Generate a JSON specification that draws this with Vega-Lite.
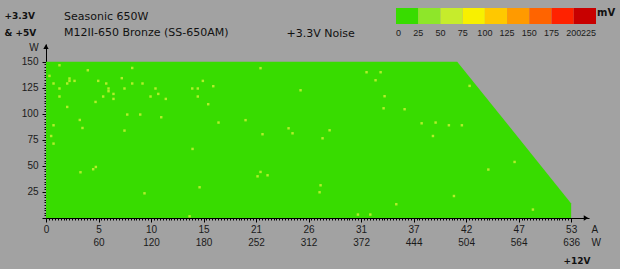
{
  "$schema": "https://vega.github.io/schema/vega-lite/v6.json",
  "width": 543,
  "height": 174,
  "autosize": {"type": "none"},
  "padding": {"left": 46, "top": 44, "right": 31, "bottom": 51},
  "background": "#a2a2a2",
  "config": {"view": {"stroke": null}, "font": "DejaVu Sans"},
  "title": {
    "text": "Seasonic 650W",
    "subtitle": "M12II-650 Bronze (SS-650AM)",
    "anchor": "start",
    "frame": "group",
    "dx": 18,
    "dy": 34,
    "font": "DejaVu Sans",
    "fontSize": 11,
    "fontWeight": "normal",
    "color": "#111111",
    "subtitleFont": "DejaVu Sans",
    "subtitleFontSize": 11,
    "subtitleColor": "#111111",
    "subtitlePadding": 5,
    "offset": 4
  },
  "datasets": {
    "region": [
      {"A": 0, "W": 150, "mV": 10},
      {"A": 41.5, "W": 150, "mV": 10},
      {"A": 53, "W": 14, "mV": 10}
    ],
    "spots": [
      {"A": 1.36, "W": 146.6}, {"A": 4.22, "W": 141.8}, {"A": 8.7, "W": 144.0}, {"A": 0.35, "W": 136.4},
      {"A": 2.37, "W": 133.9}, {"A": 2.37, "W": 131.6}, {"A": 2.88, "W": 131.6}, {"A": 0.76, "W": 129.1},
      {"A": 2.14, "W": 129.1}, {"A": 5.27, "W": 131.6}, {"A": 7.65, "W": 134.2}, {"A": 6.08, "W": 129.1},
      {"A": 8.7, "W": 129.1}, {"A": 9.74, "W": 129.1}, {"A": 15.83, "W": 131.6}, {"A": 16.88, "W": 126.5},
      {"A": 1.36, "W": 124.3}, {"A": 6.31, "W": 124.3}, {"A": 6.31, "W": 121.7}, {"A": 7.92, "W": 124.3},
      {"A": 11.05, "W": 124.3}, {"A": 14.76, "W": 124.3}, {"A": 15.32, "W": 124.3}, {"A": 6.81, "W": 119.1},
      {"A": 11.33, "W": 119.1}, {"A": 1.36, "W": 116.6}, {"A": 5.77, "W": 116.6}, {"A": 10.55, "W": 116.6},
      {"A": 6.81, "W": 114.3}, {"A": 12.09, "W": 114.3}, {"A": 15.32, "W": 116.6}, {"A": 5.0, "W": 111.4},
      {"A": 2.14, "W": 106.6}, {"A": 16.37, "W": 109.2}, {"A": 8.2, "W": 99.3}, {"A": 9.51, "W": 99.3},
      {"A": 11.63, "W": 96.7}, {"A": 3.41, "W": 94.1}, {"A": 0.76, "W": 89.0}, {"A": 17.41, "W": 91.6},
      {"A": 3.68, "W": 86.4}, {"A": 0.52, "W": 78.7}, {"A": 7.92, "W": 83.9}, {"A": 0.76, "W": 71.4},
      {"A": 14.79, "W": 66.3}, {"A": 3.48, "W": 43.9}, {"A": 4.76, "W": 46.8}, {"A": 5.03, "W": 49.0},
      {"A": 42.75, "W": 126.8}, {"A": 39.32, "W": 91.6}, {"A": 40.66, "W": 89.0}, {"A": 41.97, "W": 89.0},
      {"A": 39.05, "W": 78.7}, {"A": 47.29, "W": 53.8}, {"A": 44.64, "W": 46.5}, {"A": 41.17, "W": 21.1},
      {"A": 49.14, "W": 8.1}, {"A": 35.35, "W": 13.2}, {"A": 31.48, "W": 3.3}, {"A": 32.73, "W": 3.3},
      {"A": 14.49, "W": 1.6},
      {"A": 21.65, "W": 143.8}, {"A": 32.35, "W": 139.9}, {"A": 33.77, "W": 139.9}, {"A": 33.26, "W": 132.2},
      {"A": 34.17, "W": 116.9}, {"A": 34.07, "W": 105.3}, {"A": 36.19, "W": 104.4}, {"A": 25.69, "W": 122.6},
      {"A": 24.48, "W": 86.1}, {"A": 24.88, "W": 81.3}, {"A": 27.91, "W": 76.5}, {"A": 28.62, "W": 84.2},
      {"A": 37.91, "W": 90.9}, {"A": 21.85, "W": 80.4}, {"A": 20.14, "W": 93.9}, {"A": 21.35, "W": 40.0},
      {"A": 22.36, "W": 41.0}, {"A": 27.71, "W": 31.4}, {"A": 27.61, "W": 24.7}, {"A": 9.94, "W": 23.7},
      {"A": 15.5, "W": 29.5}, {"A": 21.65, "W": 44.2}
    ],
    "xend": [{"A": 54.5, "W": 0}],
    "yend": [{"A": 0, "W": 164.5}]
  },
  "layer": [
    {
      "data": {"name": "region"},
      "mark": {"type": "area", "interpolate": "linear", "opacity": 1},
      "encoding": {
        "x": {
          "field": "A", "type": "quantitative",
          "scale": {"domain": [0, 54.8], "nice": false, "zero": false},
          "axis": {
            "orient": "bottom",
            "values": [0,0.294,0.589,0.883,1.178,1.472,1.767,2.061,2.356,2.65,2.944,3.239,3.533,3.828,4.122,4.417,4.711,5.006,
              5.3,5.594,5.889,6.183,6.478,6.772,7.067,7.361,7.656,7.95,8.244,8.539,8.833,9.128,9.422,9.717,10.011,10.306,
              10.6,10.894,11.189,11.483,11.778,12.072,12.367,12.661,12.956,13.25,13.544,13.839,14.133,14.428,14.722,15.017,15.311,15.606,
              15.9,16.194,16.489,16.783,17.078,17.372,17.667,17.961,18.256,18.55,18.844,19.139,19.433,19.728,20.022,20.317,20.611,20.906,
              21.2,21.494,21.789,22.083,22.378,22.672,22.967,23.261,23.556,23.85,24.144,24.439,24.733,25.028,25.322,25.617,25.911,26.206,
              26.5,26.794,27.089,27.383,27.678,27.972,28.267,28.561,28.856,29.15,29.444,29.739,30.033,30.328,30.622,30.917,31.211,31.506,
              31.8,32.094,32.389,32.683,32.978,33.272,33.567,33.861,34.156,34.45,34.744,35.039,35.333,35.628,35.922,36.217,36.511,36.806,
              37.1,37.394,37.689,37.983,38.278,38.572,38.867,39.161,39.456,39.75,40.044,40.339,40.633,40.928,41.222,41.517,41.811,42.106,
              42.4,42.694,42.989,43.283,43.578,43.872,44.167,44.461,44.756,45.05,45.344,45.639,45.933,46.228,46.522,46.817,47.111,47.406,
              47.7,47.994,48.289,48.583,48.878,49.172,49.467,49.761,50.056,50.35,50.644,50.939,51.233,51.528,51.822,52.117,52.411,52.706,53],
            "labelExpr": "abs(datum.value/5.3-round(datum.value/5.3))<0.001 ? [['0'],['5','60'],['10','120'],['15','180'],['21','252'],['26','312'],['31','372'],['37','444'],['42','504'],['47','564'],['53','636']][round(datum.value/5.3)] : ''",
            "labelOverlap": false,
            "labelFlush": false,
            "labelBound": false,
            "labelFont": "Liberation Sans",
            "labelFontSize": 10,
            "labelColor": "#1a1a1a",
            "labelLineHeight": 13.5,
            "labelPadding": 2,
            "tickSize": {"condition": {"test": "abs(datum.value/5.3-round(datum.value/5.3))<0.001", "value": 4}, "value": 2},
            "tickColor": "#000000",
            "tickWidth": 1,
            "domainColor": "#000000",
            "domainWidth": 1,
            "grid": false,
            "title": ["A", "W"],
            "titleX": 545,
            "titleY": 14,
            "titleAlign": "left",
            "titleBaseline": "alphabetic",
            "titleFont": "Liberation Sans",
            "titleFontSize": 10,
            "titleFontWeight": "normal",
            "titleLineHeight": 13.5,
            "titleColor": "#1a1a1a"
          }
        },
        "y": {
          "field": "W", "type": "quantitative",
          "scale": {"domain": [0, 167], "nice": false, "zero": true},
          "axis": {
            "orient": "left",
            "values": [0,2.5,5,7.5,10,12.5,15,17.5,20,22.5,25,27.5,30,32.5,35,37.5,40,42.5,45,47.5,50,52.5,55,57.5,60,62.5,65,67.5,70,72.5,75,77.5,80,82.5,85,87.5,90,92.5,95,97.5,100,102.5,105,107.5,110,112.5,115,117.5,120,122.5,125,127.5,130,132.5,135,137.5,140,142.5,145,147.5,150],
            "labelExpr": "datum.value > 0 && datum.value % 25 == 0 ? datum.label : ''",
            "labelOverlap": false,
            "labelFont": "Liberation Sans",
            "labelFontSize": 10,
            "labelColor": "#1a1a1a",
            "labelPadding": 4,
            "tickSize": {"condition": {"test": "datum.value % 25 == 0", "value": 4}, "value": 2},
            "tickColor": "#000000",
            "domainColor": "#000000",
            "grid": false,
            "title": "W",
            "titleAngle": 0,
            "titleX": -12.5,
            "titleY": 6,
            "titleAlign": "center",
            "titleBaseline": "alphabetic",
            "titleFont": "Liberation Sans",
            "titleFontSize": 10,
            "titleFontWeight": "normal",
            "titleColor": "#1a1a1a"
          }
        },
        "color": {
          "field": "mV", "type": "quantitative",
          "scale": {"type": "quantize", "domain": [0, 225], "nice": false,
            "range": ["#38dc00", "#8ee62a", "#c6ec2c", "#f8f000", "#ffc800", "#ff9a00", "#ff6400", "#ff2200", "#c80000"]},
          "legend": {
            "orient": "none",
            "legendX": 350,
            "legendY": -36,
            "direction": "horizontal",
            "values": [0, 0, 25, 50, 75, 100, 125, 150, 175, 200, 225],
            "gradientLength": 196,
            "gradientThickness": 5,
            "gradientStrokeWidth": 0,
            "labelFont": "Liberation Sans",
            "labelFontSize": 9,
            "labelColor": "#1a1a1a",
            "labelOffset": 5,
            "labelAlign": "center",
            "labelOverlap": false,
            "title": "mV",
            "titleOrient": "right",
            "titleFont": "DejaVu Sans",
            "titleFontSize": 10,
            "titleFontWeight": "bold",
            "titleColor": "#111111",
            "titlePadding": 1,
            "titleAnchor": "start",
            "titleBaseline": "top"
          }
        }
      }
    },
    {
      "data": {"name": "spots"},
      "mark": {"type": "point", "shape": "square", "filled": true, "size": 6, "color": "#b2ee2a", "opacity": 1},
      "encoding": {
        "x": {
          "field": "A", "type": "quantitative",
          "axis": {"orient": "top", "domain": false, "ticks": false, "labels": false, "grid": false,
            "title": "+3.3V Noise", "titleX": 240, "titleY": -8, "titleAlign": "left", "titleBaseline": "alphabetic",
            "titleFont": "DejaVu Sans", "titleFontSize": 11, "titleFontWeight": "normal", "titleColor": "#111111"}
        },
        "y": {
          "field": "W", "type": "quantitative",
          "axis": {"orient": "right", "domain": false, "ticks": false, "labels": false, "grid": false,
            "title": ["+3.3V", "& +5V"], "titleAngle": 0, "titleX": -585, "titleY": -25.5, "titleAlign": "left",
            "titleBaseline": "alphabetic", "titleFont": "DejaVu Sans", "titleFontSize": 9, "titleFontWeight": "bold",
            "titleLineHeight": 17, "titleColor": "#111111"}
        }
      }
    },
    {
      "data": {"name": "xend"},
      "mark": {"type": "point", "shape": "triangle-right", "filled": true, "size": 28, "color": "#000000", "opacity": 1},
      "encoding": {
        "x": {
          "field": "A", "type": "quantitative",
          "axis": {"orient": "bottom", "domain": false, "ticks": false, "labels": false, "grid": false,
            "title": "+12V", "titleX": 517, "titleY": 45, "titleAlign": "left", "titleBaseline": "alphabetic",
            "titleFont": "DejaVu Sans", "titleFontSize": 9, "titleFontWeight": "bold", "titleColor": "#111111"}
        },
        "y": {"field": "W", "type": "quantitative", "axis": null}
      }
    },
    {
      "data": {"name": "yend"},
      "mark": {"type": "point", "shape": "triangle-up", "filled": true, "size": 28, "color": "#000000", "opacity": 1},
      "encoding": {
        "x": {"field": "A", "type": "quantitative", "axis": null},
        "y": {"field": "W", "type": "quantitative", "axis": null}
      }
    }
  ],
  "resolve": {"axis": {"x": "independent", "y": "independent"}}
}
